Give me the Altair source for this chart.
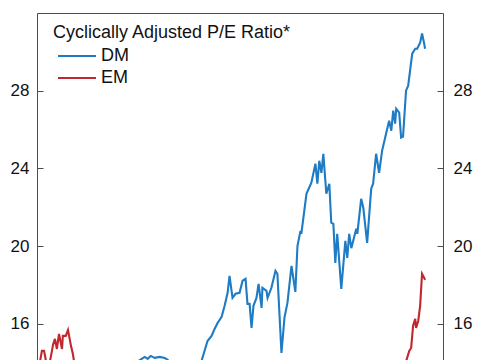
import altair as alt
import pandas as pd

# ---- data ----
dm_year = [2003.00, 2003.61, 2004.31, 2005.01, 2005.71, 2006.41, 2007.11, 2007.58, 2007.90, 2008.04,
           2008.18, 2008.32, 2008.51, 2008.74, 2008.98, 2009.12, 2009.30, 2009.58, 2009.86, 2010.14,
           2010.38, 2010.56, 2010.70, 2010.98, 2011.17, 2011.31, 2011.45, 2011.64, 2011.78, 2011.92,
           2012.01, 2012.15, 2012.29, 2012.48, 2012.62, 2012.76, 2012.85, 2012.95, 2013.04, 2013.13,
           2013.27, 2013.37, 2013.51, 2013.55, 2013.74, 2013.79, 2013.97, 2014.16, 2014.25, 2014.44,
           2014.58, 2014.72, 2014.91, 2015.09, 2015.19, 2015.33, 2015.37, 2015.61, 2015.84, 2016.03,
           2016.12, 2016.21, 2016.31, 2016.40, 2016.54, 2016.68, 2016.77, 2016.87, 2016.96, 2017.05,
           2017.24, 2017.43, 2017.52, 2017.61, 2017.71, 2017.94, 2017.99, 2018.17, 2018.27, 2018.45,
           2018.64, 2018.73, 2018.87, 2019.01, 2019.15, 2019.39, 2019.48, 2019.58, 2019.67, 2019.76,
           2019.81, 2019.95, 2020.04, 2020.13, 2020.27, 2020.37, 2020.56, 2020.70, 2020.79, 2020.93,
           2021.02, 2021.12, 2021.16]
dm_value = [12.6, 13.0, 12.7, 13.3, 13.1, 13.6, 13.8, 13.95, 14.19, 14.29,
            14.19, 14.34, 14.24, 14.29, 14.24, 14.13, 13.6, 12.4, 11.0, 10.2,
            12.0, 13.4, 14.08, 15.11, 15.37, 15.73, 16.04, 16.35, 16.92, 17.59,
            18.46, 17.33, 17.54, 17.59, 18.21, 18.31, 17.02, 17.02, 15.78, 16.92,
            17.33, 18.05, 16.81, 17.85, 17.69, 17.33, 17.85, 18.72, 18.57, 14.49,
            16.30, 17.07, 18.98, 17.64, 20.01, 20.78, 20.63, 22.69, 23.26, 24.24,
            23.21, 24.39, 23.77, 24.75, 22.69, 23.21, 21.20, 21.14, 19.13, 20.63,
            17.79, 20.27, 19.39, 20.63, 19.89, 20.89, 20.63, 22.43, 21.97, 20.16,
            22.95, 23.21, 24.75, 23.77, 24.91, 26.04, 26.45, 25.94, 26.97, 26.30,
            27.07, 26.87, 25.58, 25.63, 28.00, 28.26, 29.91, 30.16, 30.16, 30.47,
            30.94, 30.42, 30.16]

em_year = [2003.00, 2003.14, 2003.23, 2003.33, 2003.42, 2003.56, 2003.70, 2003.75, 2003.84, 2003.93,
           2004.03, 2004.17, 2004.21, 2004.35, 2004.45, 2004.59, 2004.68, 2004.73, 2004.91, 2005.19,
           2005.57, 2005.94, 2006.31, 2006.69, 2007.06, 2007.44, 2007.81, 2008.18, 2008.56, 2008.93,
           2009.30, 2009.58, 2009.86, 2010.14, 2010.52, 2010.89, 2011.26, 2011.64, 2012.01, 2012.48,
           2012.95, 2013.41, 2013.88, 2014.35, 2014.81, 2015.28, 2015.75, 2016.21, 2016.68, 2017.15,
           2017.61, 2018.08, 2018.55, 2019.01, 2019.48, 2019.95, 2020.13, 2020.27, 2020.42, 2020.51,
           2020.60, 2020.70, 2020.74, 2020.84, 2020.93, 2020.98, 2021.02, 2021.12, 2021.16]
em_value = [13.6, 14.05, 14.60, 14.60, 14.08, 13.8, 14.60, 14.91, 15.22, 14.70,
            15.47, 14.70, 15.37, 15.37, 15.68, 14.86, 14.44, 14.08, 13.3, 12.4,
            11.8, 12.3, 11.5, 12.0, 12.8, 13.3, 13.0, 12.6, 12.9, 12.2,
            10.8, 9.6, 9.9, 10.4, 11.6, 12.0, 11.4, 11.8, 12.3, 11.9,
            11.5, 12.0, 11.7, 10.4, 11.6, 12.4, 12.9, 13.2, 12.6, 11.8,
            12.2, 12.6, 13.0, 12.4, 12.8, 13.3, 13.7, 14.05, 14.60, 14.75,
            15.89, 16.25, 15.78, 16.14, 16.92, 17.85, 18.57, 18.36, 18.26]

series_names = ["DM", "EM"]
series_colors = ["#1f7bc3", "#c1272d"]
legend_title = "Cyclically Adjusted P/E Ratio*"
y_ticks = [16, 20, 24, 28]
y_domain = [14.13, 32]
x_domain = [2003, 2022]

df = pd.concat([
    pd.DataFrame({"year": dm_year, "value": dm_value, "series": "DM"}),
    pd.DataFrame({"year": em_year, "value": em_value, "series": "EM"}),
], ignore_index=True)

W, H = 406, 347
FONT = "Liberation Sans"
FRAME = "#4d4d4d"

x_enc = alt.X("year:Q", scale=alt.Scale(domain=x_domain, nice=False, zero=False),
              axis=alt.Axis(orient="top", labels=False, ticks=False, title=None,
                            domain=True, grid=False, domainColor=FRAME))

def y_enc(orient, align, pad):
    return alt.Y("value:Q", scale=alt.Scale(domain=y_domain, nice=False, zero=False),
                 axis=alt.Axis(orient=orient, offset=-W, values=y_ticks, tickSize=6,
                               labelAlign=align, labelPadding=pad, title=None, grid=False,
                               domainColor=FRAME, tickColor=FRAME, labelFont=FONT,
                               labelFontSize=17, labelColor="#111111"))

lines = alt.Chart(df).mark_line(clip=True, strokeWidth=2.1).encode(
    x=x_enc,
    y=y_enc("right", "right", -14),
    color=alt.Color("series:N", scale=alt.Scale(domain=series_names, range=series_colors),
                    legend=alt.Legend(title=legend_title, orient="none", legendX=16, legendY=11,
                                      symbolType="M-3.8,0H3.8", symbolSize=100,
                                      symbolStrokeWidth=2.2, symbolOffset=15, labelOffset=15,
                                      labelFont=FONT, labelFontSize=18, labelColor="#111111",
                                      titleFont=FONT, titleFontSize=18, titleFontWeight="normal",
                                      titleColor="#111111", titleLimit=400, padding=0,
                                      rowPadding=4, titlePadding=5)),
)

right = alt.Chart(df).mark_line(clip=True, opacity=0).encode(
    x=x_enc,
    y=y_enc("left", "left", -16),
    detail="series:N",
)

chart = (alt.layer(lines, right)
         .resolve_scale(y="independent")
         .properties(width=W, height=H, padding={"left": 2, "top": 5, "right": 5, "bottom": 0})
         .configure_view(stroke=None))

chart.save("out.html", embed_options={"renderer": "svg", "actions": False})
